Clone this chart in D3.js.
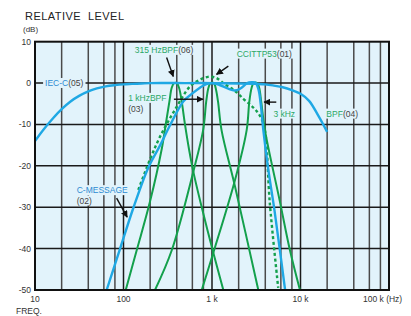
<!DOCTYPE html>
<html lang="en">
<head>
<meta charset="UTF-8">
<title>Relative Level</title>
<script src="https://d3js.org/d3.v7.min.js"></script>
<style>
  body { margin: 0; background: #fff; font-family: "Liberation Sans", Arial, sans-serif; }
  svg text { font-family: "Liberation Sans", Arial, sans-serif; }
</style>
</head>
<body>
<script>
// ---- data (frequency in Hz, level in dB) ----
const iecC = [
  [10, -14], [12.5, -11.2], [16, -8.5], [20, -6.3], [25, -4.5], [31.5, -3.1], [40, -2.0],
  [50, -1.3], [63, -0.8], [80, -0.5], [100, -0.3], [125, -0.2], [160, -0.1], [200, 0],
  [500, 0], [1000, 0], [2000, -0.1], [3150, -0.2], [4000, -0.3], [5000, -0.6], [6300, -1.0],
  [8000, -1.7], [10000, -2.6], [12500, -4.3], [16000, -8.0], [20000, -11.8]
];
const cMessage = [
  [64.5, -50], [90, -40.5], [130, -30], [190, -20.5], [260, -15], [330, -10.5], [476, -4.4],
  [600, -2.5], [730, -1.1], [850, -0.3], [1000, 0], [1200, -0.4], [1500, -1.3], [1800, -1.8],
  [2100, -1.3], [2500, 0], [2800, 0.2], [3100, 0.1], [3350, -1.5], [3550, -5], [3800, -11.3],
  [4300, -20.5], [5100, -31], [6700, -50]
];
const ccittP53 = [
  [147, -25.8], [199, -18.5], [258, -13], [380, -6.5], [565, -0.8], [730, 0.8], [900, 1.5],
  [1100, 1.3], [1400, -0.3], [1800, -1.8], [2260, -3.8], [2700, -5.2], [3200, -6.8],
  [3600, -8.5], [3960, -11.3], [4500, -29], [5600, -49.5]
];
const bpf315 = [
  [106, -50], [141, -40.4], [199, -28.7], [270, -16], [300, -10], [330, -4.5], [350, -1.2],
  [372, 0], [400, 0], [425, -1.2], [455, -4.5], [495, -10], [550, -16], [615, -21.4],
  [745, -29], [1035, -41], [1343, -50]
];
const bpf1k = [
  [227, -50], [351, -40.4], [615, -21.4], [795, -11.3], [860, -4.5], [910, -1.2], [960, 0],
  [1050, 0], [1100, -1.2], [1170, -4.5], [1280, -11.3], [1820, -25], [3336, -50]
];
const bpf3k = [
  [766, -50], [1035, -41], [1820, -23.4], [2467, -11.3], [2640, -4.5], [2800, -1.2], [2950, 0],
  [3250, 0], [3420, -1.2], [3600, -4.5], [3960, -11.3], [5860, -28.7], [7600, -40.4], [9860, -50]
];

const xTickValues = [10, 100, 1000, 10000, 100000];
const xTickLabels = ["10", "100", "1 k", "10 k", "100 k (Hz)"];
const yTickValues = [10, 0, -10, -20, -30, -40, -50];
const gridFreqs = [20, 40, 60, 80, 100, 200, 400, 600, 800, 1000, 2000, 4000, 6000, 8000,
  10000, 20000, 40000, 60000, 80000];

// labels: text parts with colour key, anchored at freq / dB
const labels = [
  { parts: [["IEC-C", "blue"], ["(05)", "gray"]], f: 13, db: -0.7 },
  { parts: [["315 HzBPF", "green"], ["(06)", "gray"]], f: 134, db: 7.3 },
  { parts: [["CCITTP53", "green"], ["(01)", "gray"]], f: 1900, db: 6.4 },
  { parts: [["1 kHzBPF", "green"]], f: 113, db: -4.3 },
  { parts: [["(03)", "gray"]], f: 113, db: -6.9 },
  { parts: [["3 kHz", "green"]], f: 4940, db: -8.1 },
  { parts: [["BPF", "green"], ["(04)", "gray"]], f: 19600, db: -8.1 },
  { parts: [["C-MESSAGE", "blue"]], f: 29.6, db: -26.6 },
  { parts: [["(02)", "gray"]], f: 29.6, db: -29.1 }
];
// arrows: from [f, dB] to [f, dB]
const arrows = [
  [[307, 6.2], [365, 1.6]],
  [[1530, 4.1], [1125, 2.1]],
  [[371, -3.9], [790, -3.9]],
  [[5325, -4.6], [3880, -4.6]],
  [[83.6, -27.8], [110, -32.4]]
];

const colors = { blue: "#1fa8e4", green: "#13a04c", textBlue: "#2d8bd2", textGreen: "#2aa866", gray: "#444" };
const plotBg = "#e2f3fb";

// ---- layout ----
const W = 411, H = 316;
const plot = { left: 35, right: 389, top: 41.7, bottom: 290 };

const svg = d3.select("body").append("svg")
  .attr("width", W).attr("height", H);

const x = d3.scaleLog().domain([10, 100000]).range([plot.left, plot.right]);
const y = d3.scaleLinear().domain([10, -50]).range([plot.top, plot.bottom]);

svg.append("rect")
  .attr("x", plot.left).attr("y", plot.top)
  .attr("width", plot.right - plot.left).attr("height", plot.bottom - plot.top)
  .attr("fill", plotBg);

svg.append("defs").append("clipPath").attr("id", "clip")
  .append("rect")
  .attr("x", plot.left).attr("y", plot.top)
  .attr("width", plot.right - plot.left).attr("height", plot.bottom - plot.top);

// grid
svg.append("g").selectAll("line").data(gridFreqs).join("line")
  .attr("x1", d => x(d)).attr("x2", d => x(d))
  .attr("y1", plot.top).attr("y2", plot.bottom)
  .attr("stroke", d => xTickValues.includes(d) ? "#1a1a1a" : "#4a4a4a")
  .attr("stroke-width", 1.5);

svg.append("g").selectAll("line").data(yTickValues.filter(d => d < 10 && d > -50)).join("line")
  .attr("x1", plot.left).attr("x2", plot.right)
  .attr("y1", d => y(d)).attr("y2", d => y(d))
  .attr("stroke", "#1a1a1a").attr("stroke-width", 1.5);

// annotation labels (with a patch of background behind them so the grid stops)
const colorOf = k => k === "blue" ? colors.textBlue : k === "green" ? colors.textGreen : colors.gray;
const labelG = svg.append("g");
labels.forEach(l => {
  const t = labelG.append("text")
    .attr("x", x(l.f)).attr("y", y(l.db))
    .attr("font-size", 8.5);
  l.parts.forEach(p => t.append("tspan").attr("fill", colorOf(p[1])).text(p[0]));
  const b = t.node().getBBox();
  labelG.insert("rect", "text")
    .attr("x", b.x - 2).attr("y", b.y)
    .attr("width", b.width + 4).attr("height", b.height)
    .attr("fill", plotBg);
});

// curves
const line = d3.line()
  .x(d => x(d[0])).y(d => y(d[1]))
  .curve(d3.curveCatmullRom.alpha(0.5));

const curves = svg.append("g").attr("clip-path", "url(#clip)");
const series = [
  { data: bpf315, color: colors.green, w: 2 },
  { data: bpf1k, color: colors.green, w: 2 },
  { data: bpf3k, color: colors.green, w: 2 },
  { data: ccittP53, color: colors.green, w: 2.4, dash: "3,2.6" },
  { data: iecC, color: colors.blue, w: 2.4 },
  { data: cMessage, color: colors.blue, w: 2.4 }
];
series.forEach(s => {
  curves.append("path")
    .attr("d", line(s.data))
    .attr("fill", "none")
    .attr("stroke", s.color)
    .attr("stroke-width", s.w)
    .attr("stroke-dasharray", s.dash || null);
});

// frame
svg.append("rect")
  .attr("x", plot.left).attr("y", plot.top)
  .attr("width", plot.right - plot.left).attr("height", plot.bottom - plot.top)
  .attr("fill", "none").attr("stroke", "#111").attr("stroke-width", 2);

// axes text
svg.append("g").selectAll("text").data(yTickValues).join("text")
  .attr("x", plot.left - 4).attr("y", d => y(d) + 3)
  .attr("text-anchor", "end").attr("font-size", 8.5).attr("fill", "#333")
  .text(d => d);

svg.append("g").selectAll("text").data(xTickValues).join("text")
  .attr("x", d => x(d)).attr("y", 302)
  .attr("text-anchor", (d, i) => i === xTickValues.length - 1 ? "start" : "middle")
  .attr("dx", (d, i) => i === xTickValues.length - 1 ? -26 : 0)
  .attr("font-size", 8.5).attr("fill", "#333")
  .text((d, i) => xTickLabels[i]);

svg.append("text").attr("x", 16).attr("y", 314)
  .attr("font-size", 8.5).attr("fill", "#333").text("FREQ.");
svg.append("text").attr("x", 25).attr("y", 19.5)
  .attr("font-size", 11).attr("letter-spacing", 0.45).attr("fill", "#222").text("RELATIVE  LEVEL")
  .style("white-space", "pre");
svg.append("text").attr("x", 23).attr("y", 31.5)
  .attr("font-size", 8).attr("fill", "#333").text("(dB)");

// arrows
svg.append("defs").append("marker")
  .attr("id", "head").attr("viewBox", "0 0 10 10")
  .attr("refX", 9).attr("refY", 5)
  .attr("markerWidth", 5).attr("markerHeight", 5)
  .attr("orient", "auto")
  .append("path").attr("d", "M0,0 L10,5 L0,10 z").attr("fill", "#111");

svg.append("g").selectAll("line").data(arrows).join("line")
  .attr("x1", d => x(d[0][0])).attr("y1", d => y(d[0][1]))
  .attr("x2", d => x(d[1][0])).attr("y2", d => y(d[1][1]))
  .attr("stroke", "#111").attr("stroke-width", 1.4)
  .attr("marker-end", "url(#head)");
</script>
</body>
</html>
